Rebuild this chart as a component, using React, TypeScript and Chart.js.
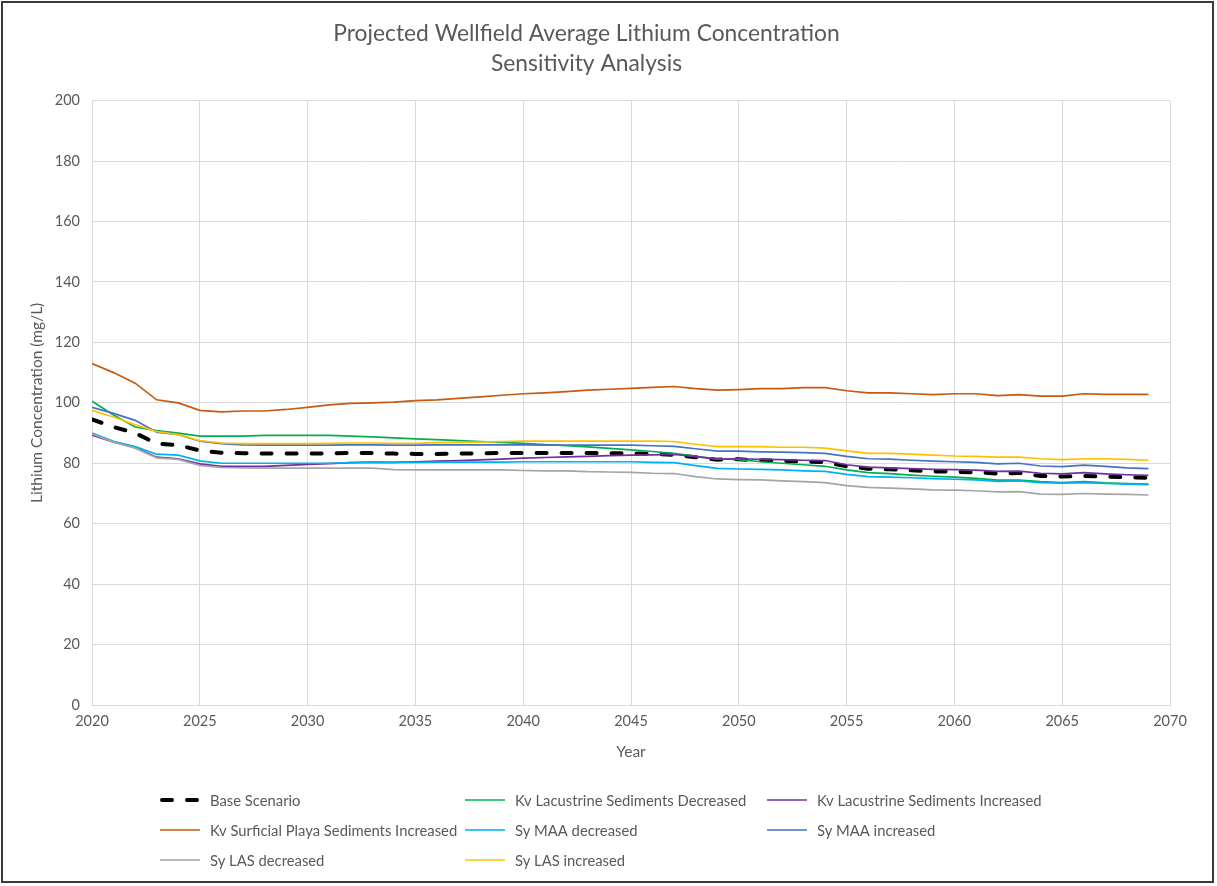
import { useEffect, useRef } from "react";
import { Chart, registerables } from "chart.js";

Chart.register(...registerables);

const FONT = "Lato, 'Noto Sans', sans-serif";
const TEXT = "#595959";

const chartTitle = ["Projected Wellfield Average Lithium Concentration", "Sensitivity Analysis"];
const xTitle = "Year";
const yTitle = "Lithium Concentration (mg/L)";

const years = [
  2020, 2021, 2022, 2023, 2024, 2025, 2026, 2027, 2028, 2029,
  2030, 2031, 2032, 2033, 2034, 2035, 2036, 2037, 2038, 2039,
  2040, 2041, 2042, 2043, 2044, 2045, 2046, 2047, 2048, 2049,
  2050, 2051, 2052, 2053, 2054, 2055, 2056, 2057, 2058, 2059,
  2060, 2061, 2062, 2063, 2064, 2065, 2066, 2067, 2068, 2069,
];

const seriesLabels = [
  "Base Scenario",
  "Kv Lacustrine Sediments Decreased",
  "Kv Lacustrine Sediments Increased",
  "Kv Surficial Playa Sediments Increased",
  "Sy MAA decreased",
  "Sy MAA increased",
  "Sy LAS decreased",
  "Sy LAS increased",
];

const baseScenario = [
  94.5, 92, 90, 86.5, 86, 84.2, 83.5, 83.3, 83.2, 83.2,
  83.2, 83.3, 83.4, 83.4, 83.2, 83.1, 83.1, 83.2, 83.3, 83.4,
  83.4, 83.4, 83.4, 83.4, 83.3, 83.3, 83.1, 82.8, 82, 81.2,
  81.3, 81, 80.8, 80.6, 80.4, 79, 78.2, 78, 77.7, 77.3,
  77.2, 77, 76.6, 76.8, 75.8, 75.6, 75.8, 75.6, 75.4, 75.2,
];

const kvLacDecreased = [
  100.5, 96, 92, 90.8, 90, 89, 89, 89, 89.2, 89.2,
  89.2, 89.2, 89, 88.7, 88.4, 88.1, 87.8, 87.5, 87.2, 86.9,
  86.6, 86.2, 85.8, 85.4, 84.9, 84.4, 83.9, 83.3, 82.3, 81.5,
  81.2, 80.5, 80, 79.5, 79, 77.8, 76.9, 76.6, 76.1, 75.7,
  75.4, 75, 74.4, 74.4, 73.9, 73.6, 73.9, 73.5, 73.3, 73.1,
];

const kvLacIncreased = [
  89.3, 87, 85.3, 82, 81.5, 79.8, 79, 79, 79, 79.3,
  79.6, 79.9, 80.2, 80.4, 80.3, 80.5, 80.7, 80.9, 81.1, 81.4,
  81.7, 81.9, 82.1, 82.3, 82.5, 82.7, 82.8, 82.9, 82.2, 81.4,
  81.5, 81.3, 81.2, 81, 80.9, 79.5, 78.7, 78.5, 78.2, 78,
  77.9, 77.7, 77.3, 77.4, 76.7, 76.5, 76.9, 76.5, 76.2, 76,
];

const kvPlayaIncreased = [
  113, 110, 106.5, 101, 100, 97.5, 97, 97.3, 97.3, 97.8,
  98.5, 99.3, 99.8, 100, 100.2, 100.7, 101, 101.5, 102, 102.5,
  103, 103.3, 103.7, 104.2, 104.5, 104.8, 105.1, 105.4, 104.7, 104.2,
  104.4, 104.7, 104.7, 105, 105, 104, 103.3, 103.3, 103, 102.7,
  103, 103, 102.4, 102.7, 102.2, 102.2, 103, 102.8, 102.8, 102.8,
];

const syMaaDecreased = [
  90, 87.3, 85.5, 83, 82.7, 80.8, 80, 80, 80, 80,
  80, 80, 80.2, 80.3, 80.3, 80.3, 80.4, 80.4, 80.4, 80.4,
  80.5, 80.5, 80.5, 80.5, 80.5, 80.5, 80.3, 80.2, 79.2, 78.3,
  78.1, 78, 77.8, 77.5, 77.3, 76.3, 75.6, 75.4, 75.2, 74.9,
  74.7, 74.5, 74, 74.2, 73.6, 73.4, 73.6, 73.3, 73.1, 72.9,
];

const syMaaIncreased = [
  98.5, 96.5, 94.2, 90.3, 89.5, 87.3, 86.5, 86.1, 86, 86,
  86, 86, 86.1, 86.1, 86, 86, 86.1, 86.1, 86.1, 86.1,
  86.1, 86, 86, 86, 86, 86, 85.8, 85.6, 84.8, 84,
  84, 83.8, 83.7, 83.5, 83.3, 82.3, 81.5, 81.4, 81, 80.7,
  80.5, 80.3, 79.8, 80, 79.1, 78.9, 79.4, 79, 78.5, 78.2,
];

const syLasDecreased = [
  89.7, 87, 85, 81.8, 81.3, 79.3, 78.6, 78.5, 78.4, 78.4,
  78.4, 78.4, 78.4, 78.4, 77.9, 77.8, 77.8, 77.8, 77.8, 77.8,
  77.6, 77.5, 77.5, 77.2, 77.1, 77, 76.7, 76.6, 75.6, 74.8,
  74.6, 74.5, 74.2, 73.9, 73.6, 72.6, 72, 71.8, 71.5, 71.2,
  71.1, 70.9, 70.5, 70.6, 69.8, 69.7, 70, 69.8, 69.7, 69.5,
];

const syLasIncreased = [
  97.5, 95.3, 92.7, 90.5, 89.5, 87.5, 86.7, 86.5, 86.5, 86.5,
  86.5, 86.6, 86.7, 86.7, 86.6, 86.6, 86.8, 86.9, 87, 87.2,
  87.3, 87.3, 87.3, 87.3, 87.3, 87.3, 87.3, 87.2, 86.3, 85.5,
  85.5, 85.5, 85.3, 85.3, 85, 84.1, 83.3, 83.3, 83, 82.7,
  82.4, 82.3, 82, 82, 81.5, 81.2, 81.5, 81.5, 81.3, 81,
];

const seriesValues = [
  baseScenario,
  kvLacDecreased,
  kvLacIncreased,
  kvPlayaIncreased,
  syMaaDecreased,
  syMaaIncreased,
  syLasDecreased,
  syLasIncreased,
];

const seriesColors = [
  "#000000",
  "#00B050",
  "#7030A0",
  "#C55A11",
  "#00B0F0",
  "#4472C4",
  "#A5A5A5",
  "#FFC000",
];

const legendColX = [157, 462, 764];
const legendRowY = [797, 827, 857];

const gridLegend = {
  id: "gridLegend",
  afterDraw(chart: any) {
    const ctx = chart.ctx as CanvasRenderingContext2D;
    ctx.save();
    ctx.font = `14.8px ${FONT}`;
    ctx.textBaseline = "middle";
    ctx.textAlign = "left";
    chart.data.datasets.forEach((ds: any, i: number) => {
      const col = i % 3;
      const row = Math.floor(i / 3);
      const x = legendColX[col];
      const y = legendRowY[row];
      ctx.strokeStyle = ds.borderColor;
      ctx.lineWidth = ds.borderWidth;
      ctx.lineCap = ds.borderCapStyle || "butt";
      ctx.setLineDash(ds.borderDash || []);
      ctx.beginPath();
      ctx.moveTo(ds.borderDash ? x + 2 : x, y);
      ctx.lineTo(ds.borderDash ? x + 39 : x + 40, y);
      ctx.stroke();
      ctx.setLineDash([]);
      ctx.fillStyle = TEXT;
      ctx.fillText(ds.label, x + 50, y + 1);
    });
    ctx.restore();
  },
};

export default function App() {
  const canvasRef = useRef<HTMLCanvasElement | null>(null);

  useEffect(() => {
    if (!canvasRef.current) return;
    const datasets = seriesLabels.map((label, i) => {
      const isBase = i === 0;
      return {
        label,
        data: years.map((yr, j) => ({ x: yr, y: seriesValues[i][j] })),
        borderColor: seriesColors[i],
        backgroundColor: seriesColors[i],
        borderWidth: isBase ? 4 : 1.7,
        borderDash: isBase ? [10, 15] : undefined,
        borderCapStyle: isBase ? "round" : "butt",
        pointRadius: 0,
        pointHoverRadius: 0,
        tension: 0,
        fill: false,
        order: -i,
      };
    });

    const chart = new Chart(canvasRef.current, {
      type: "line",
      data: { datasets } as any,
      plugins: [gridLegend],
      options: {
        animation: false,
        responsive: true,
        maintainAspectRatio: false,
        layout: { padding: { left: 0, right: 42, top: 0, bottom: 116 } },
        plugins: {
          legend: { display: false },
          tooltip: { enabled: false },
          title: {
            display: true,
            text: chartTitle,
            color: TEXT,
            font: { family: FONT, size: 22.8, weight: "normal", lineHeight: 1.33 },
            padding: { top: 15, bottom: 22 },
          },
        },
        scales: {
          x: {
            type: "linear",
            min: 2020,
            max: 2070,
            afterFit: (s: any) => {
              s.height = 60;
            },
            ticks: {
              stepSize: 5,
              color: TEXT,
              font: { family: FONT, size: 14.5 },
              padding: 8,
              maxRotation: 0,
              callback: (v: any) => String(v),
            },
            grid: { color: "#D9D9D9", lineWidth: 1, drawTicks: false },
            border: { color: "#D9D9D9" },
            title: {
              display: true,
              text: xTitle,
              color: TEXT,
              font: { family: FONT, size: 15.5 },
              padding: { top: 0, bottom: 4 },
            },
          },
          y: {
            type: "linear",
            min: 0,
            max: 200,
            afterFit: (s: any) => {
              s.width = 89;
            },
            ticks: {
              stepSize: 20,
              color: TEXT,
              font: { family: FONT, size: 14.5 },
              padding: 12,
            },
            grid: { color: "#D9D9D9", lineWidth: 1, drawTicks: false },
            border: { color: "#D9D9D9" },
            title: {
              display: true,
              text: yTitle,
              color: TEXT,
              font: { family: FONT, size: 15.5 },
              padding: { top: 25, bottom: 0 },
            },
          },
        },
      } as any,
    });
    return () => chart.destroy();
  }, []);

  return (
    <div
      style={{
        position: "absolute",
        left: 1,
        top: 1,
        width: 1213,
        height: 882,
        border: "2px solid #3a3a3a",
        boxSizing: "border-box",
        background: "#ffffff",
      }}
    >
      <div style={{ position: "relative", width: "100%", height: "100%" }}>
        <canvas ref={canvasRef} />
      </div>
    </div>
  );
}
